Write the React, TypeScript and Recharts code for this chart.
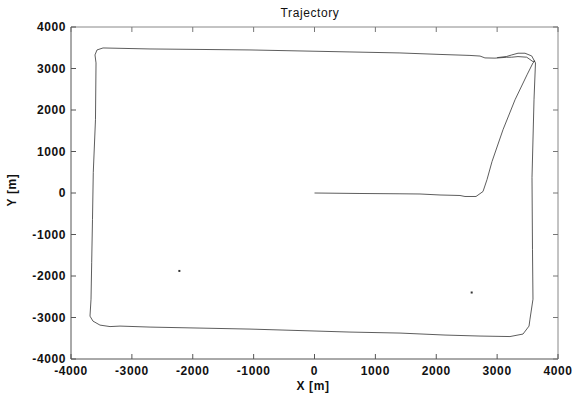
import { ComposedChart, Line, Scatter, XAxis, YAxis } from 'recharts';

// vehicle track in metres (x, y), split by leg
const approachLeg = [
  [0, 0], [747, -12], [1404, -19], [1733, -24], [2062, -48], [2390, -60], [2472, -84],
  [2653, -84], [2768, 36], [2834, 324], [2916, 757], [3097, 1526], [3294, 2246],
  [3491, 2847], [3589, 3135], [3622, 3183],
];
const innerLoop = [
  [3589, 3166], [3486, 3272], [3343, 3287], [3240, 3272], [3157, 3270], [2965, 3250],
  [2800, 3255], [2719, 3300],
];
const topLeg = [
  [2554, 3315], [2062, 3339], [1404, 3375], [583, 3399], [-238, 3423], [-1060, 3447],
  [-1881, 3459], [-2702, 3471], [-3474, 3495], [-3573, 3447], [-3606, 3327],
];
const leftLeg = [
  [-3589, 3135], [-3598, 1766], [-3634, 492], [-3647, -637], [-3660, -1670],
  [-3671, -2559], [-3688, -2967], [-3639, -3087], [-3524, -3183], [-3359, -3219],
  [-3195, -3207],
];
const bottomLeg = [
  [-2702, -3231], [-1881, -3255], [-1060, -3279], [-238, -3315], [583, -3351],
  [1405, -3375], [2144, -3423], [2719, -3447], [3211, -3459], [3425, -3399],
  [3524, -3207], [3540, -3039],
];
const rightLeg = [
  [3589, -2559], [3581, -1357], [3573, 372], [3606, 2246], [3630, 3135],
];
const outerLoop = [
  [3568, 3303], [3458, 3368], [3343, 3368], [3240, 3327], [3157, 3290], [3000, 3262],
];
const strayPoints = [[-2220, -1878], [2582, -2398]];

const xTicks = [-4000, -3000, -2000, -1000, 0, 1000, 2000, 3000, 4000];
const yTicks = [-4000, -3000, -2000, -1000, 0, 1000, 2000, 3000, 4000];

const track = [...approachLeg, ...innerLoop, ...topLeg, ...leftLeg, ...bottomLeg, ...rightLeg, ...outerLoop]
  .map(([x, y]) => ({ x, y }));
const dots = strayPoints.map(([x, y]) => ({ x, y }));

const FONT = '"Liberation Sans", Arial, Helvetica, sans-serif';
const TICK_LEN = 5;

// matlab-style: ticks point into the plot box
const BottomTick = (p: any) => (
  <g>
    <line x1={p.x} x2={p.x} y1={p.y - 7} y2={p.y - 7 - TICK_LEN} stroke="#555" />
    <text x={p.x} y={p.y} dy="0.71em" textAnchor="middle" fontFamily={FONT} fontSize={12}
      fontWeight={700} letterSpacing={0.6} fill="#111">{p.payload.value}</text>
  </g>
);
const LeftTick = (p: any) => (
  <g>
    <line x1={p.x + 5} x2={p.x + 5 + TICK_LEN} y1={p.y} y2={p.y} stroke="#555" />
    <text x={p.x} y={p.y} dy="0.36em" textAnchor="end" fontFamily={FONT} fontSize={12}
      fontWeight={700} letterSpacing={0.6} fill="#111">{p.payload.value}</text>
  </g>
);
const TopTick = (p: any) => (
  <line x1={p.x} x2={p.x} y1={p.y} y2={p.y + TICK_LEN} stroke="#777" />
);
const RightTick = (p: any) => (
  <line x1={p.x} x2={p.x - TICK_LEN} y1={p.y} y2={p.y} stroke="#777" />
);

export default function App() {
  return (
    <div style={{ position: 'absolute', left: 0, top: 0, width: 573, height: 398, background: '#fff' }}>
      <ComposedChart width={573} height={398} margin={{ top: 26, right: 14, bottom: 8, left: 21 }}>
        <XAxis
          xAxisId="b" type="number" dataKey="x" domain={[-4000, 4000]} ticks={xTicks}
          allowDataOverflow height={31} tickSize={0} tickMargin={7} tickLine={false}
          stroke="#555" tick={<BottomTick />} interval={0}
        />
        <XAxis
          xAxisId="t" orientation="top" type="number" dataKey="x" domain={[-4000, 4000]} ticks={xTicks}
          allowDataOverflow height={1} tickSize={0} tickMargin={0} tickLine={false}
          stroke="#888" tick={<TopTick />} interval={0}
        />
        <YAxis
          yAxisId="l" type="number" dataKey="y" domain={[-4000, 4000]} ticks={yTicks}
          allowDataOverflow width={50} tickSize={0} tickMargin={5} tickLine={false}
          stroke="#555" tick={<LeftTick />} interval={0}
        />
        <YAxis
          yAxisId="r" orientation="right" type="number" dataKey="y" domain={[-4000, 4000]} ticks={yTicks}
          allowDataOverflow width={1} tickSize={0} tickMargin={0} tickLine={false}
          stroke="#888" tick={<RightTick />} interval={0}
        />
        <Line
          xAxisId="t" yAxisId="r" data={track} dataKey="y" type="linear"
          stroke="none" dot={false} legendType="none" isAnimationActive={false}
        />
        <Line
          xAxisId="b" yAxisId="l" data={track} dataKey="y" type="linear"
          stroke="#333" strokeWidth={0.8} dot={false} isAnimationActive={false}
        />
        <Scatter
          xAxisId="b" yAxisId="l" data={dots} dataKey="y" fill="#333"
          shape={(p: any) => <rect x={p.cx - 1} y={p.cy - 1} width={2} height={2} fill="#333" />}
          isAnimationActive={false}
        />
      </ComposedChart>
      <svg width={573} height={398} style={{ position: 'absolute', left: 0, top: 0, pointerEvents: 'none' }}>
        <text x={310} y={17} textAnchor="middle" fontFamily={FONT} fontSize={12} letterSpacing={0.6} fill="#111">
          Trajectory
        </text>
        <text x={313} y={390} textAnchor="middle" fontFamily={FONT} fontSize={12} fontWeight={700} letterSpacing={0.6} fill="#111">
          X [m]
        </text>
        <text x={16} y={190} textAnchor="middle" fontFamily={FONT} fontSize={12} fontWeight={700} letterSpacing={0.6} fill="#111" transform="rotate(-90 16 190)">
          Y [m]
        </text>
      </svg>
    </div>
  );
}
